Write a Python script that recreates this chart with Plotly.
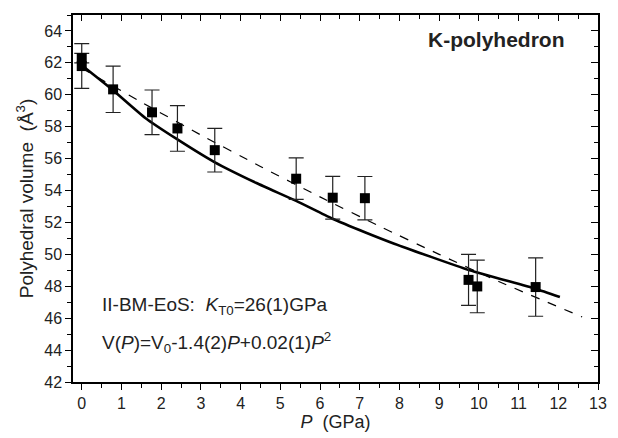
import plotly.graph_objects as go

# Measured data (P in GPa, V in Å^3)
p_data = [0, 0, 0.79, 1.77, 2.41, 3.35, 5.40, 6.32, 7.13, 9.74, 9.96, 11.43]
v_data = [61.8, 62.3, 60.34, 58.9, 57.89, 56.53, 54.74, 53.55, 53.52, 48.4, 47.99, 47.95]
v_err = [1.4, 0.3, 1.45, 1.4, 1.43, 1.37, 1.3, 1.34, 1.36, 1.6, 1.65, 1.83]

# BM-EoS fit curve (solid)
p_bm = [0, 0.78, 1.6, 2.38, 3.33, 4.4, 5.4, 6.3, 7.13, 7.87, 9.77, 11.42, 12.04]
v_bm = [61.85, 60.3, 58.55, 57.25, 55.8, 54.47, 53.35, 52.25, 51.39, 50.67, 49.0, 47.85, 47.33]

# Polynomial fit (dashed)
p_poly = [0, 1.5, 3, 4.5, 6, 7.5, 9, 10.5, 12.6]
v_poly = [61.66, 59.54, 57.48, 55.51, 53.6, 51.76, 50.0, 48.3, 46.08]

x_ticks = list(range(0, 14))
y_ticks = list(range(42, 65, 2))

FONT = "Arial, Liberation Sans, sans-serif"
TXT = "#222"

fig = go.Figure()

fig.add_trace(go.Scatter(x=p_poly, y=v_poly, mode="lines", line=dict(color="black", width=1.2, dash="dash", shape="spline", smoothing=0.6), showlegend=False))
fig.add_trace(go.Scatter(x=p_bm, y=v_bm, mode="lines", line=dict(color="black", width=2.6, shape="spline", smoothing=0.5), showlegend=False))
fig.add_trace(go.Scatter(
    x=p_data, y=v_data, mode="markers",
    marker=dict(symbol="square", size=10, color="black"),
    error_y=dict(type="data", array=v_err, visible=True, color="#222", thickness=1.2, width=7.5),
    showlegend=False))
# invisible trace for mirrored axes
fig.add_trace(go.Scatter(x=[0], y=[50], xaxis="x2", yaxis="y2", mode="markers", marker=dict(opacity=0), showlegend=False, hoverinfo="skip"))

axis_common = dict(showgrid=False, zeroline=False, linecolor="black", linewidth=1.5,
                   tickcolor="black", tickwidth=1.2, showline=True)

fig.update_layout(
    width=618, height=438,
    margin=dict(l=73, r=11, t=15, b=51),
    paper_bgcolor="white", plot_bgcolor="white",
    font=dict(family=FONT, color=TXT, size=16),
    xaxis=dict(range=[-0.22, 13], tickvals=x_ticks, ticks="outside", ticklen=6,
               minor=dict(dtick=0.5, tick0=0, ticks="outside", ticklen=4, tickcolor="black", tickwidth=1.2),
               tickfont=dict(size=16),
               title=dict(text="<i>P</i>  (GPa)", font=dict(size=18), standoff=2), **axis_common),
    yaxis=dict(range=[42, 65], tickvals=y_ticks, ticks="outside", ticklen=6,
               minor=dict(dtick=1, tick0=42, ticks="outside", ticklen=4, tickcolor="black", tickwidth=1.2),
               tickfont=dict(size=16),
               title=dict(text="Polyhedral volume  (Å<sup>3</sup>)", font=dict(size=19), standoff=6), **axis_common),
    xaxis2=dict(overlaying="x", side="top", matches="x", range=[-0.22, 13], tickvals=x_ticks,
                ticks="inside", ticklen=6, showticklabels=False,
                minor=dict(dtick=0.5, tick0=0, ticks="inside", ticklen=4, tickcolor="black", tickwidth=1.2),
                **axis_common),
    yaxis2=dict(overlaying="y", side="right", matches="y", range=[42, 65], tickvals=y_ticks,
                ticks="inside", ticklen=7, showticklabels=False,
                minor=dict(dtick=1, tick0=42, ticks="inside", ticklen=4, tickcolor="black", tickwidth=1.2),
                **axis_common),
)

fig.add_annotation(x=575, y=40, xref="paper", yref="paper", showarrow=False)
fig.layout.annotations = []

fig.add_annotation(x=(575 - 73) / 534, y=1 - (40 - 15) / 372, xref="paper", yref="paper", xanchor="right", yanchor="middle",
                   text="<b>K-polyhedron</b>", showarrow=False, font=dict(size=21, color=TXT))
fig.add_annotation(x=(100 - 73) / 534, y=1 - (310 - 15) / 372, xref="paper", yref="paper", xanchor="left", yanchor="middle",
                   text="II-BM-EoS:  <i>K</i><sub>T0</sub>=26(1)GPa", showarrow=False, font=dict(size=19, color=TXT))
fig.add_annotation(x=(100 - 73) / 534, y=1 - (347 - 15) / 372, xref="paper", yref="paper", xanchor="left", yanchor="middle",
                   text="V(<i>P</i>)=V<sub>0</sub>-1.4(2)<i>P</i>+0.02(1)<i>P</i><sup>2</sup>", showarrow=False, font=dict(size=19, color=TXT))

fig.write_html("out.html")
